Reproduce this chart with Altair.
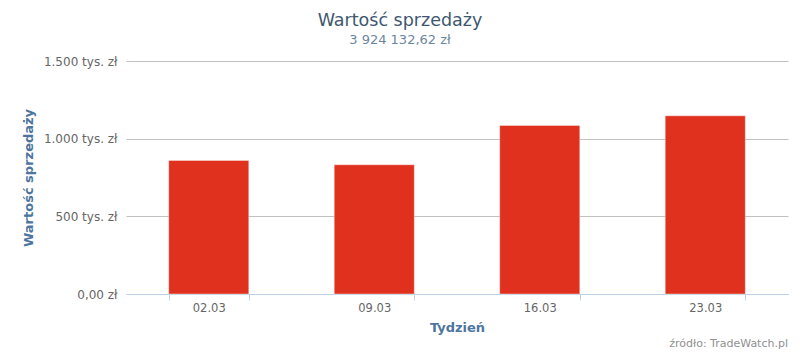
import altair as alt
import pandas as pd

weeks = ["02.03", "09.03", "16.03", "23.03"]
sales = [860000, 832000, 1085000, 1147000]
y_ticks = [0, 500000, 1000000, 1500000]
title_text = "Wartość sprzedaży"
subtitle_text = "3 924 132,62 zł"
credit_text = "źródło: TradeWatch.pl"

df = pd.DataFrame({"week": weeks, "sales": sales})
FONT = "DejaVu Sans"
W, H = 662, 233

bars = alt.Chart(df).mark_bar(
    color="#E0311F", stroke="#ffffff", strokeWidth=1, strokeOpacity=0.4
).encode(
    x=alt.X("week:N", sort=weeks,
            scale=alt.Scale(paddingInner=0.516, paddingOuter=0.258),
            axis=alt.Axis(title="Tydzień", labelAngle=0, tickBand="extent",
                          domainColor="#C0D0E0", tickColor="#C0D0E0", tickSize=6,
                          labelColor="#666666", labelFontSize=11.5, labelPadding=2,
                          titleColor="#4D759E", titleFontSize=13, titleFontWeight="bold",
                          titleX=W / 2, titleY=33, titleBaseline="middle", titleAlign="center")),
    y=alt.Y("sales:Q", scale=alt.Scale(domain=[0, 1500000], nice=False),
            axis=alt.Axis(title="Wartość sprzedaży", values=y_ticks,
                          labelExpr="datum.value == 0 ? '0,00 zł' : replace(format(datum.value / 1000, ','), ',', '.') + ' tys. zł'",
                          gridColor="#C0C0C0", domain=False, ticks=False,
                          labelColor="#666666", labelFontSize=12, labelPadding=9,
                          titleColor="#4D759E", titleFontSize=13, titleFontWeight="bold",
                          titleX=-98, titleY=H / 2, titleAngle=-90,
                          titleBaseline="middle", titleAlign="center")),
)

credit = alt.Chart(alt.Data(values=[{"t": credit_text}])).mark_text(
    align="right", baseline="middle", fontSize=11, color="#909090", font=FONT
).encode(x=alt.value(W), y=alt.value(283), text="t:N")

chart = alt.layer(bars, credit).properties(
    width=W, height=H,
    padding={"left": 126, "top": 61, "right": 12, "bottom": 62},
    autosize=alt.AutoSizeParams(type="none"),
    title=alt.TitleParams(text=title_text, subtitle=subtitle_text, anchor="middle",
                          frame="group", dx=-57, offset=8, fontSize=17.5,
                          fontWeight="normal", color="#3E576F", subtitleFontSize=13,
                          subtitleColor="#6D869F", subtitlePadding=5, font=FONT,
                          subtitleFont=FONT),
).configure(font=FONT).configure_view(stroke=None)

chart.save("out.html", embed_options={"renderer": "svg", "actions": False})
